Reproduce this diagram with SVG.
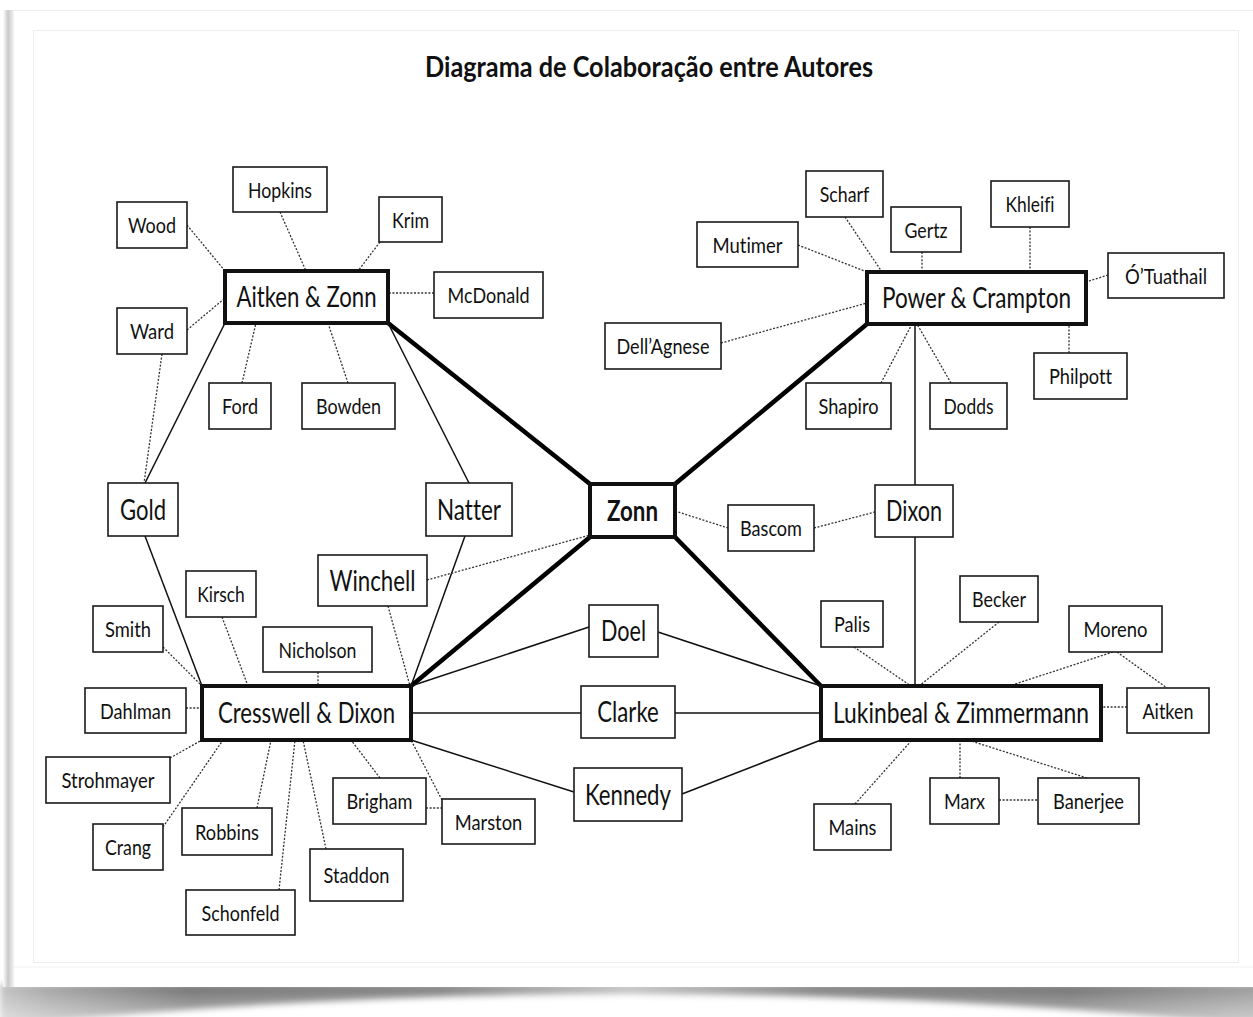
<svg xmlns="http://www.w3.org/2000/svg" width="1253" height="1017" viewBox="0 0 1253 1017">
  <defs>
    <style>
      .box { fill: #fff; stroke: #1a1a1a; stroke-width: 1.6; }
      .hub { fill: #fff; stroke: #111; stroke-width: 4; }
      .t { font-family: Lato, "Open Sans", "Liberation Sans", sans-serif; font-size: 22px; text-anchor: middle; fill: #111; font-variant-ligatures: none; }
      .tl { font-size: 28px; }
      .b { font-weight: bold; }
      .solid { stroke: #111; stroke-width: 1.5; fill: none; }
      .heavy { stroke: #000; stroke-width: 4.5; fill: none; }
      .dot { stroke: #333; stroke-width: 1.3; stroke-dasharray: 2 1.6; fill: none; }
    </style>
    <linearGradient id="leftShade" x1="0" y1="0" x2="1" y2="0">
      <stop offset="0" stop-color="#fff"/>
      <stop offset="0.45" stop-color="#c9c9c9"/>
      <stop offset="1" stop-color="#f4f4f4"/>
    </linearGradient>
    <linearGradient id="shadowDepth" x1="0" y1="0" x2="0" y2="1">
      <stop offset="0" stop-color="#6e6e6e"/>
      <stop offset="0.5" stop-color="#9a9a9a"/>
      <stop offset="1" stop-color="#c4c4c4"/>
    </linearGradient>
    <linearGradient id="shadowFade" x1="0" y1="0" x2="1" y2="0">
      <stop offset="0" stop-color="#fff" stop-opacity="0.55"/>
      <stop offset="0.04" stop-color="#fff" stop-opacity="0.35"/>
      <stop offset="0.15" stop-color="#fff" stop-opacity="0"/>
      <stop offset="0.35" stop-color="#fff" stop-opacity="0.1"/>
      <stop offset="0.5" stop-color="#fff" stop-opacity="0.55"/>
      <stop offset="0.65" stop-color="#fff" stop-opacity="0.1"/>
      <stop offset="0.85" stop-color="#fff" stop-opacity="0"/>
      <stop offset="1" stop-color="#fff" stop-opacity="0.3"/>
    </linearGradient>
    <filter id="soft" x="-5%" y="-50%" width="110%" height="200%">
      <feGaussianBlur stdDeviation="3"/>
    </filter>
  </defs>

  <!-- page and its lifted shadow -->
  <rect x="0" y="0" width="1253" height="1017" fill="#fff"/>
  <g filter="url(#soft)">
    <path d="M0,984 L1260,984 L1260,1026 Q626,962 0,1026 Z" fill="url(#shadowDepth)"/>
    <path d="M0,984 L1260,984 L1260,1026 Q626,962 0,1026 Z" fill="url(#shadowFade)"/>
  </g>
  <rect x="13" y="10" width="1245" height="977" fill="#fff"/>
  <rect x="3" y="10" width="11" height="977" fill="url(#leftShade)"/>
  <line x1="13" y1="10.5" x2="1253" y2="10.5" stroke="#efefef" stroke-width="1"/>
  <rect x="33.5" y="30.5" width="1205" height="932" fill="none" stroke="#eeeeee" stroke-width="1"/>
  <line x1="13" y1="967" x2="1253" y2="967" stroke="#f0f0f0" stroke-width="1"/>

  <text class="t b" x="649" y="77" textLength="448" lengthAdjust="spacingAndGlyphs" style="font-size:29px">Diagrama de Colaboração entre Autores</text>

  <g id="connectors">
    <!-- main links through Zonn -->
    <line class="heavy" x1="388" y1="323" x2="590" y2="484"/>
    <line class="heavy" x1="867" y1="324" x2="675" y2="484"/>
    <line class="heavy" x1="590" y1="537" x2="411" y2="686"/>
    <line class="heavy" x1="675" y1="537" x2="821" y2="686"/>

    <!-- solid links -->
    <line class="solid" x1="225" y1="323" x2="145" y2="483"/>
    <line class="solid" x1="145" y1="536" x2="202" y2="686"/>
    <line class="solid" x1="388" y1="323" x2="469" y2="483"/>
    <line class="solid" x1="465" y1="536" x2="411" y2="686"/>
    <line class="solid" x1="411" y1="686" x2="589" y2="627"/>
    <line class="solid" x1="658" y1="632" x2="821" y2="686"/>
    <line class="solid" x1="411" y1="713" x2="581" y2="713"/>
    <line class="solid" x1="675" y1="713" x2="821" y2="713"/>
    <line class="solid" x1="411" y1="740" x2="574" y2="792"/>
    <line class="solid" x1="682" y1="794" x2="821" y2="740"/>
    <line class="solid" x1="915" y1="324" x2="915" y2="485"/>
    <line class="solid" x1="915" y1="537" x2="915" y2="686"/>

    <!-- dotted links: Aitken & Zonn -->
    <line class="dot" x1="187" y1="225" x2="225" y2="271"/>
    <line class="dot" x1="280" y1="212" x2="306" y2="271"/>
    <line class="dot" x1="380" y1="242" x2="358" y2="271"/>
    <line class="dot" x1="434" y1="293" x2="388" y2="293"/>
    <line class="dot" x1="187" y1="330" x2="225" y2="298"/>
    <line class="dot" x1="242" y1="383" x2="256" y2="323"/>
    <line class="dot" x1="348" y1="383" x2="328" y2="323"/>
    <line class="dot" x1="162" y1="354" x2="144" y2="483"/>

    <!-- dotted links: Power & Crampton -->
    <line class="dot" x1="798" y1="245" x2="867" y2="272"/>
    <line class="dot" x1="845" y1="217" x2="882" y2="272"/>
    <line class="dot" x1="922" y1="252" x2="922" y2="272"/>
    <line class="dot" x1="1030" y1="227" x2="1030" y2="272"/>
    <line class="dot" x1="1108" y1="275" x2="1086" y2="282"/>
    <line class="dot" x1="721" y1="343" x2="867" y2="303"/>
    <line class="dot" x1="1069" y1="353" x2="1069" y2="324"/>
    <line class="dot" x1="881" y1="383" x2="912" y2="324"/>
    <line class="dot" x1="951" y1="383" x2="917" y2="324"/>

    <!-- dotted links: centre -->
    <line class="dot" x1="675" y1="511" x2="728" y2="528"/>
    <line class="dot" x1="814" y1="528" x2="875" y2="512"/>
    <line class="dot" x1="427" y1="580" x2="590" y2="535"/>
    <line class="dot" x1="388" y1="606" x2="410" y2="686"/>

    <!-- dotted links: Cresswell & Dixon -->
    <line class="dot" x1="222" y1="617" x2="248" y2="686"/>
    <line class="dot" x1="163" y1="647" x2="202" y2="686"/>
    <line class="dot" x1="318" y1="672" x2="318" y2="686"/>
    <line class="dot" x1="186" y1="708" x2="202" y2="708"/>
    <line class="dot" x1="170" y1="758" x2="202" y2="740"/>
    <line class="dot" x1="163" y1="827" x2="223" y2="740"/>
    <line class="dot" x1="257" y1="808" x2="271" y2="740"/>
    <line class="dot" x1="279" y1="890" x2="295" y2="740"/>
    <line class="dot" x1="326" y1="849" x2="303" y2="740"/>
    <line class="dot" x1="380" y1="778" x2="351" y2="740"/>
    <line class="dot" x1="442" y1="800" x2="411" y2="740"/>
    <line class="dot" x1="426" y1="808" x2="442" y2="808"/>

    <!-- dotted links: Lukinbeal & Zimmermann -->
    <line class="dot" x1="854" y1="647" x2="911" y2="686"/>
    <line class="dot" x1="999" y1="622" x2="919" y2="686"/>
    <line class="dot" x1="1113" y1="652" x2="1009" y2="686"/>
    <line class="dot" x1="1117" y1="652" x2="1167" y2="688"/>
    <line class="dot" x1="1127" y1="707" x2="1101" y2="707"/>
    <line class="dot" x1="855" y1="804" x2="912" y2="740"/>
    <line class="dot" x1="960" y1="778" x2="960" y2="740"/>
    <line class="dot" x1="1087" y1="778" x2="968" y2="740"/>
    <line class="dot" x1="999" y1="800" x2="1038" y2="800"/>
  </g>

  <!-- Aitken & Zonn cluster -->
  <g id="n-wood"><rect class="box" x="117" y="202" width="70" height="46"/><text class="t" x="152" y="233" textLength="48" lengthAdjust="spacingAndGlyphs">Wood</text></g>
  <g id="n-hopkins"><rect class="box" x="233" y="167" width="94" height="45"/><text class="t" x="280" y="197.5" textLength="64" lengthAdjust="spacingAndGlyphs">Hopkins</text></g>
  <g id="n-krim"><rect class="box" x="379" y="197" width="63" height="45"/><text class="t" x="410.5" y="227.5" textLength="37" lengthAdjust="spacingAndGlyphs">Krim</text></g>
  <g id="n-aitken-zonn"><rect class="hub" x="225" y="271" width="163" height="52"/><text class="t tl" x="306.5" y="307" textLength="140" lengthAdjust="spacingAndGlyphs">Aitken &amp; Zonn</text></g>
  <g id="n-mcdonald"><rect class="box" x="434" y="272" width="109" height="46"/><text class="t" x="488.5" y="303" textLength="82" lengthAdjust="spacingAndGlyphs">McDonald</text></g>
  <g id="n-ward"><rect class="box" x="117" y="308" width="70" height="46"/><text class="t" x="152" y="339" textLength="44" lengthAdjust="spacingAndGlyphs">Ward</text></g>
  <g id="n-ford"><rect class="box" x="209" y="383" width="62" height="46"/><text class="t" x="240" y="414" textLength="36" lengthAdjust="spacingAndGlyphs">Ford</text></g>
  <g id="n-bowden"><rect class="box" x="302" y="383" width="93" height="46"/><text class="t" x="348.5" y="414" textLength="65" lengthAdjust="spacingAndGlyphs">Bowden</text></g>

  <!-- Power & Crampton cluster -->
  <g id="n-scharf"><rect class="box" x="806" y="171" width="77" height="46"/><text class="t" x="844.5" y="202" textLength="49.5" lengthAdjust="spacingAndGlyphs">Scharf</text></g>
  <g id="n-gertz"><rect class="box" x="891" y="207" width="70" height="45"/><text class="t" x="926" y="237.5" textLength="43" lengthAdjust="spacingAndGlyphs">Gertz</text></g>
  <g id="n-khleifi"><rect class="box" x="991" y="181" width="78" height="46"/><text class="t" x="1030" y="212" textLength="49" lengthAdjust="spacingAndGlyphs">Khleifi</text></g>
  <g id="n-mutimer"><rect class="box" x="697" y="222" width="101" height="45"/><text class="t" x="747.5" y="252.5" textLength="70" lengthAdjust="spacingAndGlyphs">Mutimer</text></g>
  <g id="n-otuathail"><rect class="box" x="1108" y="253" width="116" height="45"/><text class="t" x="1166" y="283.5" textLength="82" lengthAdjust="spacingAndGlyphs">Ó’Tuathail</text></g>
  <g id="n-power-crampton"><rect class="hub" x="867" y="272" width="219" height="52"/><text class="t tl" x="976.5" y="308" textLength="189" lengthAdjust="spacingAndGlyphs">Power &amp; Crampton</text></g>
  <g id="n-dellagnese"><rect class="box" x="605" y="323" width="116" height="46"/><text class="t" x="663" y="354" textLength="93" lengthAdjust="spacingAndGlyphs">Dell’Agnese</text></g>
  <g id="n-philpott"><rect class="box" x="1034" y="353" width="93" height="46"/><text class="t" x="1080.5" y="384" textLength="63" lengthAdjust="spacingAndGlyphs">Philpott</text></g>
  <g id="n-shapiro"><rect class="box" x="806" y="383" width="85" height="46"/><text class="t" x="848.5" y="414" textLength="60" lengthAdjust="spacingAndGlyphs">Shapiro</text></g>
  <g id="n-dodds"><rect class="box" x="930" y="383" width="77" height="46"/><text class="t" x="968.5" y="414" textLength="50" lengthAdjust="spacingAndGlyphs">Dodds</text></g>

  <!-- centre -->
  <g id="n-gold"><rect class="box" x="108" y="483" width="70" height="53"/><text class="t tl" x="143" y="520" textLength="46" lengthAdjust="spacingAndGlyphs">Gold</text></g>
  <g id="n-natter"><rect class="box" x="426" y="483" width="86" height="53"/><text class="t tl" x="469" y="520" textLength="64" lengthAdjust="spacingAndGlyphs">Natter</text></g>
  <g id="n-zonn"><rect class="hub" x="590" y="484" width="85" height="53"/><text class="t tl b" x="632.5" y="521" textLength="51" lengthAdjust="spacingAndGlyphs">Zonn</text></g>
  <g id="n-bascom"><rect class="box" x="728" y="505" width="86" height="46"/><text class="t" x="771" y="536" textLength="62" lengthAdjust="spacingAndGlyphs">Bascom</text></g>
  <g id="n-dixon"><rect class="box" x="875" y="485" width="78" height="52"/><text class="t tl" x="914" y="521" textLength="56" lengthAdjust="spacingAndGlyphs">Dixon</text></g>
  <g id="n-winchell"><rect class="box" x="318" y="555" width="109" height="51"/><text class="t tl" x="372.5" y="591" textLength="86" lengthAdjust="spacingAndGlyphs">Winchell</text></g>
  <g id="n-doel"><rect class="box" x="589" y="605" width="69" height="52"/><text class="t tl" x="623.5" y="641" textLength="45" lengthAdjust="spacingAndGlyphs">Doel</text></g>
  <g id="n-clarke"><rect class="box" x="581" y="686" width="94" height="52"/><text class="t tl" x="628" y="722" textLength="61.5" lengthAdjust="spacingAndGlyphs">Clarke</text></g>
  <g id="n-kennedy"><rect class="box" x="574" y="768" width="108" height="53"/><text class="t tl" x="628" y="804.5" textLength="86" lengthAdjust="spacingAndGlyphs">Kennedy</text></g>

  <!-- Cresswell & Dixon cluster -->
  <g id="n-kirsch"><rect class="box" x="186" y="571" width="70" height="46"/><text class="t" x="221" y="602" textLength="47.5" lengthAdjust="spacingAndGlyphs">Kirsch</text></g>
  <g id="n-smith"><rect class="box" x="93" y="606" width="70" height="46"/><text class="t" x="128" y="637" textLength="46" lengthAdjust="spacingAndGlyphs">Smith</text></g>
  <g id="n-nicholson"><rect class="box" x="263" y="627" width="109" height="45"/><text class="t" x="317.5" y="657.5" textLength="78" lengthAdjust="spacingAndGlyphs">Nicholson</text></g>
  <g id="n-dahlman"><rect class="box" x="85" y="688" width="101" height="45"/><text class="t" x="135.5" y="718.5" textLength="71" lengthAdjust="spacingAndGlyphs">Dahlman</text></g>
  <g id="n-cresswell-dixon"><rect class="hub" x="202" y="686" width="209" height="54"/><text class="t tl" x="306.5" y="723" textLength="177" lengthAdjust="spacingAndGlyphs">Cresswell &amp; Dixon</text></g>
  <g id="n-strohmayer"><rect class="box" x="46" y="757" width="124" height="46"/><text class="t" x="108" y="788" textLength="93" lengthAdjust="spacingAndGlyphs">Strohmayer</text></g>
  <g id="n-crang"><rect class="box" x="93" y="824" width="70" height="46"/><text class="t" x="128" y="855" textLength="46" lengthAdjust="spacingAndGlyphs">Crang</text></g>
  <g id="n-robbins"><rect class="box" x="182" y="808" width="90" height="47"/><text class="t" x="227" y="839.5" textLength="64" lengthAdjust="spacingAndGlyphs">Robbins</text></g>
  <g id="n-brigham"><rect class="box" x="333" y="778" width="93" height="46"/><text class="t" x="379.5" y="809" textLength="66" lengthAdjust="spacingAndGlyphs">Brigham</text></g>
  <g id="n-marston"><rect class="box" x="442" y="799" width="93" height="45"/><text class="t" x="488.5" y="829.5" textLength="67.5" lengthAdjust="spacingAndGlyphs">Marston</text></g>
  <g id="n-staddon"><rect class="box" x="310" y="849" width="93" height="52"/><text class="t" x="356.5" y="883" textLength="66" lengthAdjust="spacingAndGlyphs">Staddon</text></g>
  <g id="n-schonfeld"><rect class="box" x="186" y="890" width="109" height="45"/><text class="t" x="240.5" y="920.5" textLength="78" lengthAdjust="spacingAndGlyphs">Schonfeld</text></g>

  <!-- Lukinbeal & Zimmermann cluster -->
  <g id="n-palis"><rect class="box" x="821" y="601" width="62" height="46"/><text class="t" x="852" y="632" textLength="36" lengthAdjust="spacingAndGlyphs">Palis</text></g>
  <g id="n-becker"><rect class="box" x="960" y="576" width="78" height="46"/><text class="t" x="999" y="607" textLength="54" lengthAdjust="spacingAndGlyphs">Becker</text></g>
  <g id="n-moreno"><rect class="box" x="1069" y="606" width="93" height="46"/><text class="t" x="1115.5" y="637" textLength="64" lengthAdjust="spacingAndGlyphs">Moreno</text></g>
  <g id="n-lukinbeal-zimmermann"><rect class="hub" x="821" y="686" width="280" height="54"/><text class="t tl" x="961" y="723" textLength="256" lengthAdjust="spacingAndGlyphs">Lukinbeal &amp; Zimmermann</text></g>
  <g id="n-aitken"><rect class="box" x="1127" y="688" width="82" height="45"/><text class="t" x="1168" y="718.5" textLength="51" lengthAdjust="spacingAndGlyphs">Aitken</text></g>
  <g id="n-mains"><rect class="box" x="814" y="804" width="77" height="46"/><text class="t" x="852.5" y="835" textLength="48" lengthAdjust="spacingAndGlyphs">Mains</text></g>
  <g id="n-marx"><rect class="box" x="930" y="778" width="69" height="46"/><text class="t" x="964.5" y="809" textLength="41" lengthAdjust="spacingAndGlyphs">Marx</text></g>
  <g id="n-banerjee"><rect class="box" x="1038" y="778" width="101" height="46"/><text class="t" x="1088.5" y="809" textLength="71" lengthAdjust="spacingAndGlyphs">Banerjee</text></g>
</svg>
